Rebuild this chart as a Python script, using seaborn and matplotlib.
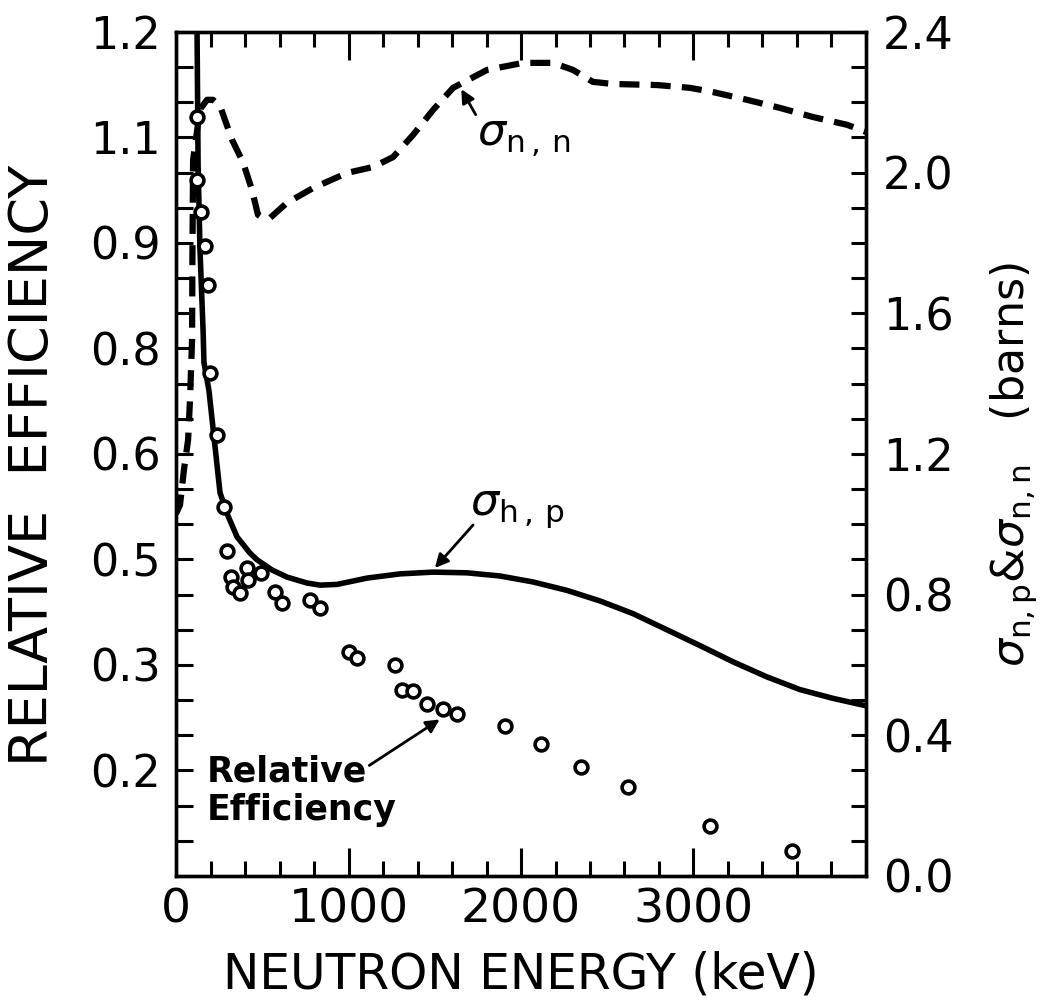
import pandas as pd
import seaborn as sns
import matplotlib.pyplot as plt
from matplotlib.ticker import MultipleLocator, FixedLocator, FixedFormatter, FormatStrFormatter

# Eficiencia relativa (circulos), eje izquierdo
eff_energy = [122, 122, 145, 168, 186, 197, 238, 278, 296, 319, 330, 371, 412, 417,
              493, 574, 614, 777, 835, 1003, 1049, 1270, 1310, 1374, 1455, 1548,
              1629, 1907, 2116, 2348, 2620, 3096, 3571]
eff_value = [1.079, 0.990, 0.944, 0.896, 0.840, 0.715, 0.627, 0.525, 0.462, 0.425,
             0.411, 0.402, 0.438, 0.421, 0.431, 0.404, 0.388, 0.392, 0.381, 0.318,
             0.310, 0.300, 0.264, 0.263, 0.245, 0.237, 0.230, 0.213, 0.188, 0.155,
             0.127, 0.071, 0.036]

# sigma h,p (linea continua), eje derecho en barns
hp_energy = [116, 122, 128, 139, 157, 162, 191, 255, 296, 354, 429, 470, 557, 643,
             759, 835, 933, 1107, 1299, 1490, 1687, 1878, 2070, 2267, 2458, 2649,
             2846, 3038, 3229, 3426, 3617, 3809, 4000]
hp_barns = [2.50, 2.40, 2.02, 1.78, 1.55, 1.46, 1.38, 1.09, 1.03, 0.964, 0.918,
            0.899, 0.870, 0.850, 0.833, 0.827, 0.829, 0.847, 0.859, 0.864, 0.862,
            0.853, 0.836, 0.812, 0.782, 0.746, 0.700, 0.655, 0.609, 0.566, 0.530,
            0.505, 0.484]

# sigma n,n (linea discontinua), eje derecho en barns
nn_energy = [0, 23, 46, 70, 81, 93, 95, 99, 139, 180, 214, 255, 325, 388, 441, 475,
             504, 545, 643, 794, 991, 1142, 1258, 1374, 1490, 1606, 1803, 2012, 2186,
             2301, 2417, 2533, 2788, 2980, 3113, 3310, 3501, 3693, 3890, 4000]
nn_barns = [1.03, 1.055, 1.155, 1.24, 1.354, 1.524, 1.75, 2.036, 2.18, 2.207, 2.207,
            2.19, 2.093, 2.03, 1.95, 1.88, 1.871, 1.871, 1.914, 1.956, 1.999, 2.016,
            2.044, 2.107, 2.178, 2.241, 2.292, 2.312, 2.312, 2.292, 2.258, 2.252,
            2.249, 2.241, 2.229, 2.207, 2.184, 2.158, 2.136, 2.116]

# etiquetas del eje izquierdo tal como aparecen
left_ticks = [1.2, 1.05, 0.9, 0.75, 0.6, 0.45, 0.3, 0.15]
left_labels = ['1.2', '1.1', '0.9', '0.8', '0.6', '0.5', '0.3', '0.2']
x_ticks = [0, 1000, 2000, 3000]
right_ticks = [0.0, 0.4, 0.8, 1.2, 1.6, 2.0, 2.4]

eff = pd.DataFrame({'energy': eff_energy, 'eff': eff_value})
hp = pd.DataFrame({'energy': hp_energy, 'barns': hp_barns})
nn = pd.DataFrame({'energy': nn_energy, 'barns': nn_barns})

sns.set_style('ticks')
plt.rcParams['font.family'] = ['DejaVu Sans']
plt.rcParams['mathtext.fontset'] = 'dejavusans'
plt.rcParams['text.color'] = 'black'
plt.rcParams['axes.labelcolor'] = 'black'
plt.rcParams['xtick.color'] = 'black'
plt.rcParams['ytick.color'] = 'black'

fig = plt.figure(figsize=(10.61, 10.01), dpi=100)
ax = fig.add_axes([0.1659, 0.1249, 0.6503, 0.8432])
ax2 = ax.twinx()
# circulos por encima de las curvas
ax.set_zorder(ax2.get_zorder() + 1)
ax.patch.set_visible(False)

sns.lineplot(data=hp, x='energy', y='barns', ax=ax2, color='black', lw=4,
             estimator=None, sort=False)
sns.lineplot(data=nn, x='energy', y='barns', ax=ax2, color='black', lw=4.5,
             linestyle=(0, (3.2, 1.8)), estimator=None, sort=False)
sns.scatterplot(data=eff, x='energy', y='eff', ax=ax, marker='o', s=85,
                facecolor='white', edgecolor='black', linewidth=2.6, zorder=5)

ax.set_xlim(0, 4000)
ax.set_ylim(0, 1.2)
ax2.set_ylim(0, 2.4)

# ticks hacia dentro en los cuatro lados
ax.xaxis.set_major_locator(FixedLocator(x_ticks))
ax.xaxis.set_minor_locator(MultipleLocator(200))
ax.yaxis.set_major_locator(FixedLocator(left_ticks))
ax.yaxis.set_major_formatter(FixedFormatter(left_labels))
ax.yaxis.set_minor_locator(MultipleLocator(0.05))
ax2.yaxis.set_major_locator(FixedLocator(right_ticks))
ax2.yaxis.set_major_formatter(FormatStrFormatter('%.1f'))
ax2.yaxis.set_minor_locator(MultipleLocator(0.1))

ax.tick_params(axis='x', which='major', direction='in', length=20, width=2.2,
               top=True, labelsize=34, pad=8)
ax.tick_params(axis='x', which='minor', direction='in', length=11, width=2.2, top=True)
ax.tick_params(axis='y', which='both', direction='in', length=12, width=2.2,
               labelsize=32, pad=11)
ax2.tick_params(axis='y', which='both', direction='in', length=11, width=2.2,
                labelsize=32, pad=12)
ax2.tick_params(axis='x', which='both', top=False, bottom=False)

for a in (ax, ax2):
    for s in a.spines.values():
        s.set_linewidth(2.4)
        s.set_color('black')

ax.set_xlabel('NEUTRON ENERGY (keV)', fontsize=35)
ax.xaxis.set_label_coords(0.5, -0.088)
ax.set_ylabel('RELATIVE  EFFICIENCY', fontsize=39)
ax.yaxis.set_label_coords(-0.17, 0.486)
ax2.set_ylabel(r'$\sigma_{\mathrm{n,p}}$&$\sigma_{\mathrm{n,n}}$   (barns)', fontsize=32)
ax2.yaxis.set_label_coords(1.177, 0.487)

# etiquetas de las curvas
ax2.text(1745, 2.076, r'$\sigma_{\mathrm{n\,,\,n}}$', fontsize=32, ha='left', va='baseline')
ax2.annotate('', xy=(1646, 2.244), xytext=(1745, 2.158),
             arrowprops=dict(arrowstyle='-|>', color='black', lw=2, mutation_scale=20))
ax2.text(1704, 1.027, r'$\sigma_{\mathrm{h\,,\,p}}$', fontsize=32, ha='left', va='baseline')
ax2.annotate('', xy=(1490, 0.870), xytext=(1733, 1.004),
             arrowprops=dict(arrowstyle='-|>', color='black', lw=2, mutation_scale=20))
ax.text(180, 0.172, 'Relative\nEfficiency', fontsize=25, fontweight='bold',
        ha='left', va='top', linespacing=1.15)
ax.annotate('', xy=(1542, 0.2247), xytext=(1107, 0.155),
            arrowprops=dict(arrowstyle='-|>', color='black', lw=2, mutation_scale=20))

fig.savefig('out.png', dpi=100)
